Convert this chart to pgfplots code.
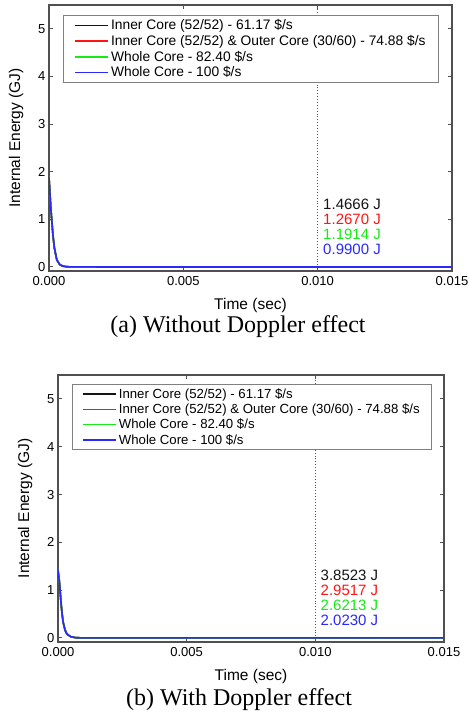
\documentclass[border=0pt]{standalone}
\usepackage{fontspec}
\setmainfont{Liberation Sans}
\newfontfamily\capfont{Liberation Serif}
\usepackage{pgfplots}
\pgfplotsset{compat=1.18}

\definecolor{cblack}{RGB}{20,20,20}
\definecolor{cred}{RGB}{255,20,20}
\definecolor{cgreen}{RGB}{20,235,20}
\definecolor{cblue}{RGB}{40,40,255}
\definecolor{axgray}{RGB}{80,80,80}

\pgfplotsset{
  energy/.style={
    scale only axis,
    xmin=0, xmax=0.015, ymin=-0.085, ymax=5.5,
    xtick={0,0.005,0.010,0.015},
    ytick={0,1,2,3,4,5},
    scaled x ticks=false,
    xticklabel style={yshift=-2pt, /pgf/number format/.cd, fixed, fixed zerofill, precision=3},
    /pgf/number format/assume math mode=true,
    tick label style={font=\fontsize{13}{15}\selectfont},
    label style={font=\fontsize{15.5}{17}\selectfont},
    xlabel={Time (sec)},
    ylabel={Internal Energy (GJ)},
    xlabel shift=6pt,
    ylabel shift=8pt,
    axis line style={axgray, line width=1.2pt},
    major tick length=4pt,
    tick style={axgray, line width=1pt},
    legend cell align=left,
    legend style={anchor=north west, draw=gray, line width=0.8pt, fill=white,
      font=\fontsize{13.8}{16}\selectfont, row sep=0pt, inner xsep=11pt, inner ysep=2pt},
    legend image code/.code={\draw[#1, line width=1.6pt] (0pt,0pt) -- (33pt,0pt);},
    every axis plot/.append style={line width=1.6pt},
  },
}
\tikzset{anno/.style={anchor=west, font=\fontsize{15}{17}\selectfont, inner sep=0pt}}

\begin{document}
\begin{tikzpicture}
\path[use as bounding box] (0,0) rectangle (469pt,-715pt);

% (a) without Doppler effect
\begin{axis}[energy, at={(49pt,-271pt)}, anchor=south west,
  width=403pt, height=266pt,
  legend style={at={(0.035,0.962)}}]
\draw[dotted, axgray, line width=0.9pt] (axis cs:0.01,-0.085) -- (axis cs:0.01,5.5);
\addplot[cblack] coordinates {(0,1.88)(0.00003,1.6)(0.00006,1.3)(0.0001,1.0)(0.00015,0.65)(0.0002,0.4)(0.00029,0.15)(0.0004,0.05)(0.0005,0.02)(0.00066,0.004)(0.001,0.0005)(0.002,0)(0.015,0)};
\addlegendentry{Inner Core (52/52) - 61.17 \$/s}
\addplot[cred] coordinates {(0,1.88)(0.00003,1.6)(0.00006,1.3)(0.0001,1.0)(0.00015,0.65)(0.0002,0.4)(0.00029,0.15)(0.0004,0.05)(0.0005,0.02)(0.00066,0.004)(0.001,0.0005)(0.002,0)(0.015,0)};
\addlegendentry{Inner Core (52/52) \& Outer Core (30/60) - 74.88 \$/s}
\addplot[cgreen] coordinates {(0,1.88)(0.00003,1.6)(0.00006,1.3)(0.0001,1.0)(0.00015,0.65)(0.0002,0.4)(0.00029,0.15)(0.0004,0.05)(0.0005,0.02)(0.00066,0.004)(0.001,0.0005)(0.002,0)(0.015,0)};
\addlegendentry{Whole Core - 82.40 \$/s}
\addplot[cblue] coordinates {(0,1.88)(0.00003,1.6)(0.00006,1.3)(0.0001,1.0)(0.00015,0.65)(0.0002,0.4)(0.00029,0.15)(0.0004,0.05)(0.0005,0.02)(0.00066,0.004)(0.001,0.0005)(0.002,0)(0.015,0)};
\addlegendentry{Whole Core - 100 \$/s}
\node[anno, text=cblack] at (axis cs:0.0102,1.32) {1.4666 J};
\node[anno, text=cred]   at (axis cs:0.0102,1.00) {1.2670 J};
\node[anno, text=cgreen] at (axis cs:0.0102,0.68) {1.1914 J};
\node[anno, text=cblue]  at (axis cs:0.0102,0.36) {0.9900 J};
\end{axis}
\node[font=\capfont\fontsize{24}{28}\selectfont] at (238pt,-327pt) {(a) Without Doppler effect};

% (b) with Doppler effect
\begin{axis}[energy, at={(58pt,-642pt)}, anchor=south west,
  width=386pt, height=267pt,
  legend style={at={(0.036,0.966)}, font=\fontsize{13.2}{16}\selectfont, inner xsep=10pt}]
\draw[dotted, axgray, line width=0.9pt] (axis cs:0.01,-0.085) -- (axis cs:0.01,5.5);
\addplot[cblack] coordinates {(0,1.25)(0.00002,1.33)(0.00005,1.2)(0.00008,1.0)(0.00012,0.72)(0.00016,0.5)(0.0002,0.33)(0.00027,0.17)(0.00035,0.08)(0.0005,0.025)(0.0007,0.005)(0.001,0.0005)(0.002,0)(0.015,0)};
\addlegendentry{Inner Core (52/52) - 61.17 \$/s}
\addplot[cred] coordinates {(0,1.25)(0.00002,1.33)(0.00005,1.2)(0.00008,1.0)(0.00012,0.72)(0.00016,0.5)(0.0002,0.33)(0.00027,0.17)(0.00035,0.08)(0.0005,0.025)(0.0007,0.005)(0.001,0.0005)(0.002,0)(0.015,0)};
\addlegendentry{Inner Core (52/52) \& Outer Core (30/60) - 74.88 \$/s}
\addplot[cgreen] coordinates {(0,1.25)(0.00002,1.33)(0.00005,1.2)(0.00008,1.0)(0.00012,0.72)(0.00016,0.5)(0.0002,0.33)(0.00027,0.17)(0.00035,0.08)(0.0005,0.025)(0.0007,0.005)(0.001,0.0005)(0.002,0)(0.015,0)};
\addlegendentry{Whole Core - 82.40 \$/s}
\addplot[cblue] coordinates {(0,1.25)(0.00002,1.33)(0.00005,1.2)(0.00008,1.0)(0.00012,0.72)(0.00016,0.5)(0.0002,0.33)(0.00027,0.17)(0.00035,0.08)(0.0005,0.025)(0.0007,0.005)(0.001,0.0005)(0.002,0)(0.015,0)};
\addlegendentry{Whole Core - 100 \$/s}
\node[anno, text=cblack] at (axis cs:0.0102,1.30) {3.8523 J};
\node[anno, text=cred]   at (axis cs:0.0102,0.99) {2.9517 J};
\node[anno, text=cgreen] at (axis cs:0.0102,0.68) {2.6213 J};
\node[anno, text=cblue]  at (axis cs:0.0102,0.36) {2.0230 J};
\end{axis}
\node[font=\capfont\fontsize{24}{28}\selectfont] at (239pt,-700pt) {(b) With Doppler effect};
\end{tikzpicture}
\end{document}
